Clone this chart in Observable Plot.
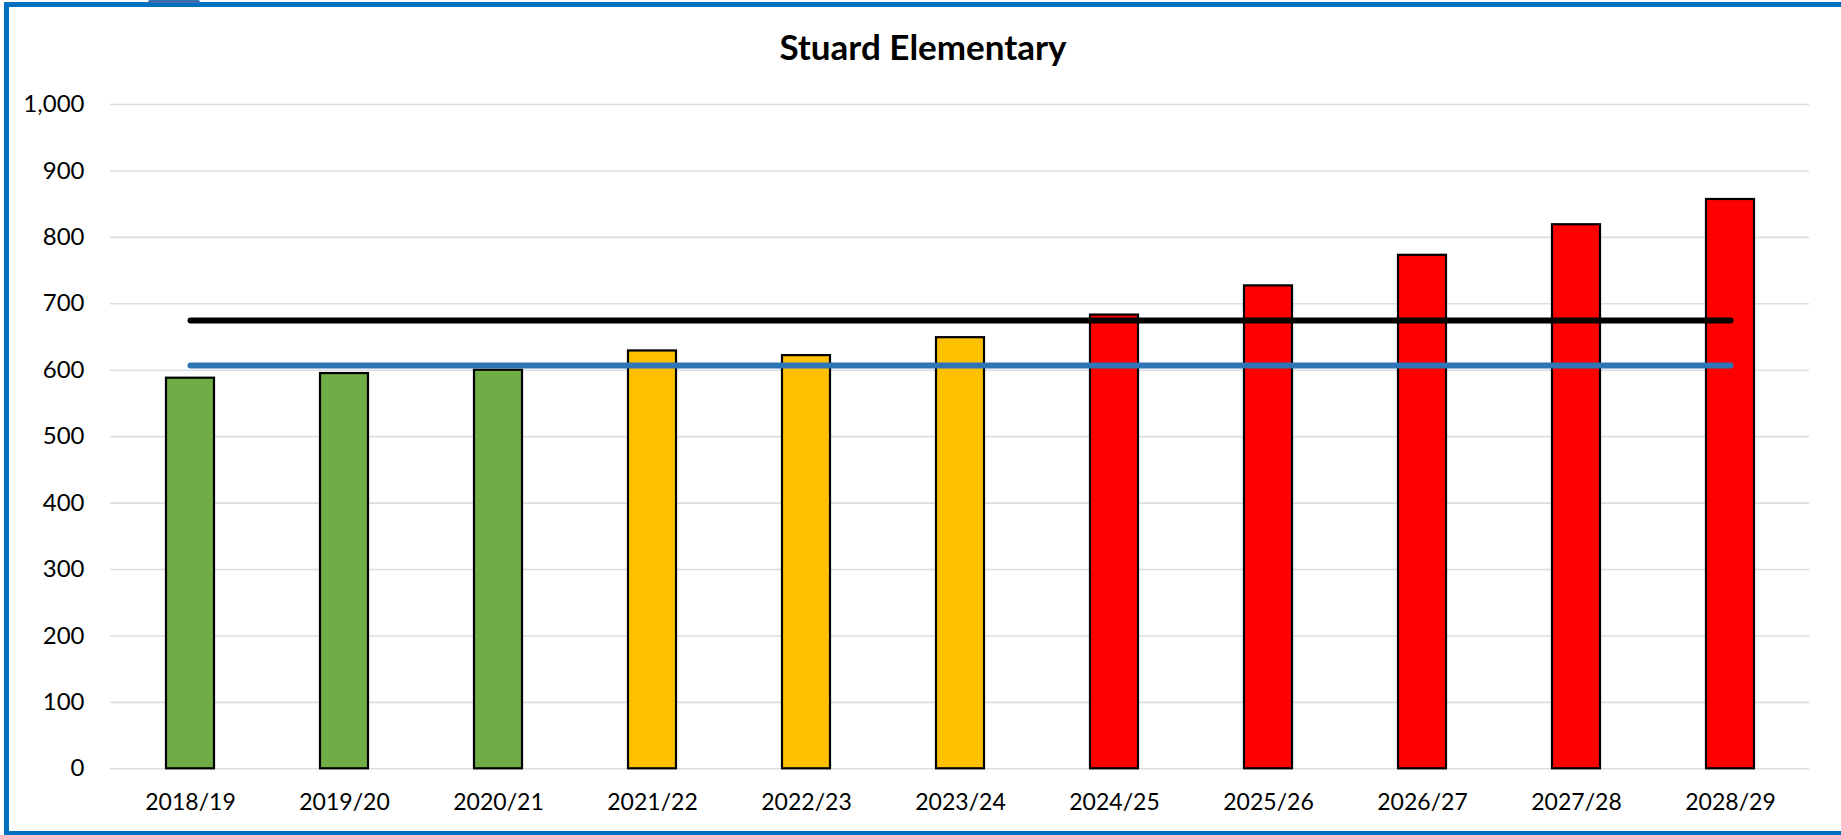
<!DOCTYPE html>
<html>
<head>
<meta charset="utf-8">
<script src="https://cdn.jsdelivr.net/npm/d3@7"></script>
<script src="https://cdn.jsdelivr.net/npm/@observablehq/plot@0.6"></script>
<style>
  html, body { margin: 0; padding: 0; background: #fff; overflow: hidden; }
  body { width: 1841px; height: 835px; position: relative; font-family: Lato, "Open Sans", sans-serif; }
  #frame { position: absolute; left: 4px; top: 2px; width: 1842px; height: 834px; box-sizing: border-box; border: 5px solid #0070C0; }
  #tab { position: absolute; left: 148px; top: 0; width: 52px; height: 3px; background: #3a6eb0; border-radius: 2px 2px 0 0; }
  #chart { position: absolute; left: 0; top: 0; }
  #title { position: absolute; left: 0; top: 29px; width: 1846px; text-align: center; font-family: Lato, sans-serif; font-weight: bold; font-size: 35px; line-height: 1; color: #000; }
</style>
</head>
<body>
<div id="frame"></div>
<div id="tab"></div>
<div id="chart"></div>
<div id="title">Stuard Elementary</div>
<script>
const categories = ["2018/19", "2019/20", "2020/21", "2021/22", "2022/23", "2023/24", "2024/25", "2025/26", "2026/27", "2027/28", "2028/29"];
const enrollment = [588, 595, 600, 629, 622, 649, 683, 727, 773, 819, 857];
const capacity = [675, 675, 675, 675, 675, 675, 675, 675, 675, 675, 675];
const permanentCapacity = [607, 607, 607, 607, 607, 607, 607, 607, 607, 607, 607];
const yTicks = [0, 100, 200, 300, 400, 500, 600, 700, 800, 900, 1000];

const data = categories.map((c, i) => ({
  category: c,
  value: enrollment[i],
  capacity: capacity[i],
  permanent: permanentCapacity[i],
  status: enrollment[i] > capacity[i] ? "Over" : enrollment[i] > permanentCapacity[i] ? "Near" : "Under"
}));

const chart = Plot.plot({
  width: 1841,
  height: 835,
  marginLeft: 110,
  marginRight: 32,
  marginTop: 104,
  marginBottom: 66.7,
  style: { fontFamily: "Lato, sans-serif", fontSize: "24px", color: "#000", background: "transparent", overflow: "visible" },
  x: { domain: categories, paddingInner: 0.69, paddingOuter: 0.345, label: null },
  y: { domain: [0, 1000], label: null },
  color: { domain: ["Under", "Near", "Over"], range: ["#70AD47", "#FFC000", "#FF0000"] },
  marks: [
    Plot.ruleY(yTicks, { stroke: "#d9dee5", strokeWidth: 1.6 }),
    Plot.barY(data, { x: "category", y: "value", fill: "status", stroke: "#000", strokeWidth: 2.2 }),
    Plot.line(data, { x: "category", y: "capacity", stroke: "#000", strokeWidth: 6, strokeLinecap: "round" }),
    Plot.line(data, { x: "category", y: "permanent", stroke: "#2E75B6", strokeWidth: 6, strokeLinecap: "round" }),
    Plot.axisY({ ticks: yTicks, tickSize: 0, tickPadding: 26, tickFormat: d3.format(","), label: null, fontSize: 24 }),
    Plot.axisX({ tickSize: 0, tickPadding: 25, label: null, fontSize: 23 })
  ]
});
document.getElementById("chart").appendChild(chart);
</script>
</body>
</html>
